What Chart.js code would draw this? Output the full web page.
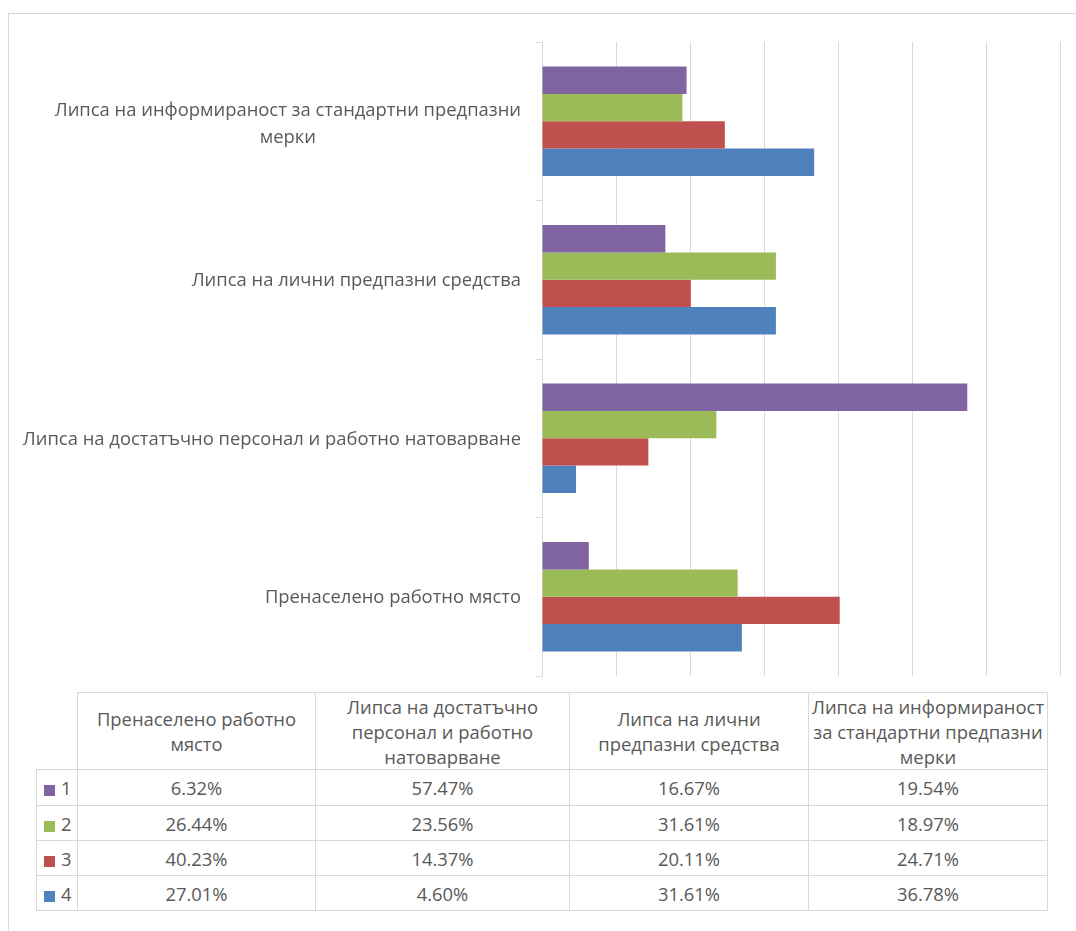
<!DOCTYPE html>
<html>
<head>
<meta charset="utf-8">
<script src="https://cdn.jsdelivr.net/npm/chart.js@4"></script>
<style>
  html, body { margin: 0; padding: 0; background: #fff; overflow: hidden; }
  body { width: 1076px; height: 931px; position: relative; font-family: "Open Sans", sans-serif; color: #595959; }
  #frame { position: absolute; left: 8px; top: 13px; width: 1200px; height: 1000px; border: 1px solid #d9d9d9; }
  #chartBox { position: absolute; left: 0; top: 0; }
  #dataTable { position: absolute; left: 36px; top: 692px; width: 1012px; table-layout: fixed; border-collapse: collapse; font-size: 18.4px; }
  #dataTable td { border: 1px solid #d9d9d9; text-align: center; padding: 0 2px; height: 34px; line-height: 27px; overflow: visible; }
  #dataTable tr.head td { height: 76px; line-height: 25px; vertical-align: middle; }
  #dataTable tr.first td { height: 35px; }
  #dataTable td.corner { border-top: none; border-left: none; }
  #dataTable td.key { text-align: left; padding-left: 7px; white-space: nowrap; }
  .swatch { display: inline-block; width: 11px; height: 11px; margin-right: 6px; vertical-align: -1px; }
</style>
</head>
<body>
<div id="frame"></div>
<canvas id="chartBox" width="1076" height="690"></canvas>
<table id="dataTable"></table>

<script>
const categories = [
    "Пренаселено работно място",
    "Липса на достатъчно персонал и работно натоварване",
    "Липса на лични предпазни средства",
    "Липса на информираност за стандартни предпазни мерки"
];
const seriesNames = ["1", "2", "3", "4"];
const series1 = [6.32, 57.47, 16.67, 19.54];
const series2 = [26.44, 23.56, 31.61, 18.97];
const series3 = [40.23, 14.37, 20.11, 24.71];
const series4 = [27.01, 4.60, 31.61, 36.78];
const seriesColors = ["#8064a2", "#9bbb59", "#c0504d", "#4f81bd"];

const allSeries = [series1, series2, series3, series4];
const textColor = "#595959";
const gridColor = "#d9d9d9";
const lineH = 27;

// split a label into lines no wider than maxW
function wrapText(ctx, text, maxW) {
    const words = text.split(" ");
    const lines = [];
    let cur = "";
    words.forEach(w => {
        const test = cur ? cur + " " + w : w;
        if (ctx.measureText(test).width > maxW && cur) {
            lines.push(cur);
            cur = w;
        } else {
            cur = test;
        }
    });
    if (cur) lines.push(cur);
    return lines;
}

// category names on the left, each block right aligned, lines centred inside it
const categoryLabels = {
    id: "categoryLabels",
    afterDraw(chart) {
        const ctx = chart.ctx;
        const y = chart.scales.y;
        ctx.save();
        ctx.font = '18.4px "Open Sans"';
        ctx.fillStyle = textColor;
        ctx.textBaseline = "middle";
        ctx.textAlign = "center";
        const right = y.right - 21;
        chart.data.labels.forEach((label, i) => {
            const lines = wrapText(ctx, label, 510);
            const w = Math.max(...lines.map(l => ctx.measureText(l).width));
            const top = y.getPixelForTick(i) - (lines.length - 1) * lineH / 2 + 1.5 * lines.length;
            lines.forEach((l, k) => ctx.fillText(l, right - w / 2, top + k * lineH));
        });
        ctx.restore();
    }
};

// the bar chart lists categories from top to bottom, the table left to right
const chartLabels = categories.slice().reverse();

let chart = new Chart(document.getElementById("chartBox").getContext("2d"), {
    type: "bar",
    data: {
        labels: chartLabels,
        datasets: allSeries.map((s, i) => ({
            label: seriesNames[i],
            data: s.slice().reverse(),
            backgroundColor: seriesColors[i],
            borderWidth: 0,
            barPercentage: 1,
            categoryPercentage: 0.69
        }))
    },
    options: {
        indexAxis: "y",
        responsive: false,
        animation: false,
        layout: { padding: { top: 42, right: 16, bottom: 14, left: 0 } },
        plugins: {
            legend: { display: false },
            tooltip: { enabled: false }
        },
        scales: {
            x: {
                min: 0,
                max: 70,
                ticks: { stepSize: 10, display: false },
                grid: { color: gridColor, lineWidth: 1, drawTicks: false },
                border: { display: false },
                afterFit: s => { s.height = 0; }
            },
            y: {
                ticks: { display: false },
                grid: { drawOnChartArea: false, drawTicks: true, tickLength: 6, color: gridColor },
                border: { display: true, color: gridColor },
                afterFit: s => { s.width = 542; }
            }
        }
    },
    plugins: [categoryLabels]
});

// data table under the chart
function buildTable() {
    const table = document.getElementById("dataTable");
    const widths = [41, 238, 254, 239, 239];
    let html = "<colgroup>" + widths.map(w => '<col style="width:' + w + 'px">').join("") + "</colgroup>";
    html += '<tr class="head"><td class="corner"></td>';
    categories.forEach(c => { html += "<td>" + c + "</td>"; });
    html += "</tr>";
    allSeries.forEach((s, i) => {
        html += '<tr' + (i === 0 ? ' class="first"' : '') + '><td class="key"><span class="swatch" style="background:' + seriesColors[i] + '"></span>' + seriesNames[i] + '</td>';
        s.forEach(v => { html += "<td>" + v.toFixed(2) + "%</td>"; });
        html += "</tr>";
    });
    table.innerHTML = html;
}
buildTable();
</script>
</body>
</html>
